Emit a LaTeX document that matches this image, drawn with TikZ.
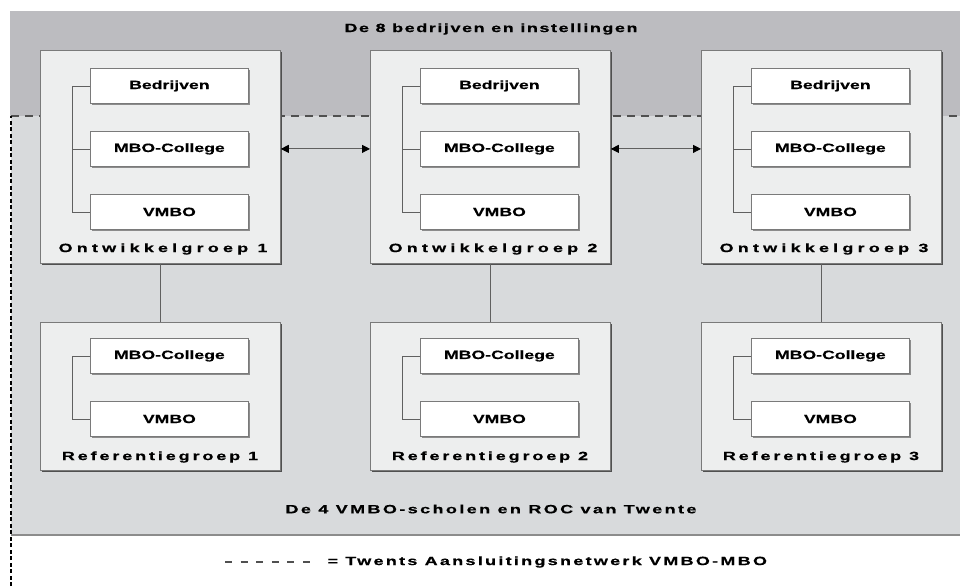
\documentclass[tikz,border=0pt]{standalone}
\usepackage{fontspec}
\setmainfont{Liberation Sans}
\usetikzlibrary{arrows.meta,shadows}
\definecolor{topband}{HTML}{BCBCC0}
\definecolor{lowband}{HTML}{D8DADC}
\definecolor{boxfill}{HTML}{EDEEEE}
\definecolor{boxline}{HTML}{7A7A7A}
\definecolor{shadowcol}{HTML}{505050}
\definecolor{linecol}{HTML}{606060}
\begin{document}
\begin{tikzpicture}[x=1pt,y=-1pt,
  font=\bfseries\fontsize{12}{14}\selectfont\addfontfeature{FakeStretch=1.47,FakeBold=0.5},
  heading/.style={font=\bfseries\fontsize{12}{14}\selectfont\addfontfeature{FakeStretch=1.5,FakeBold=0.5,LetterSpace=#1}},
  groupbox/.style={draw=boxline, fill=boxfill, line width=0.8pt, anchor=north west,
    minimum width=240pt, inner sep=0pt,
    general shadow={fill=shadowcol, shadow xshift=2pt, shadow yshift=-2pt}},
  ogroup/.style={groupbox, minimum height=213pt},
  rgroup/.style={groupbox, minimum height=148pt},
  unit/.style={draw=boxline, fill=white, line width=0.8pt, anchor=north west,
    minimum width=158pt, minimum height=35pt, inner sep=0pt,
    general shadow={fill=black!45, shadow xshift=1.5pt, shadow yshift=-1.5pt}},
  glabel/.style={font=\bfseries\fontsize{12}{14}\selectfont\addfontfeature{FakeStretch=1.5,FakeBold=0.5,LetterSpace=#1}},
  bracket/.style={draw=linecol, line width=0.8pt},
  conn/.style={draw=linecol, line width=0.8pt},
  biarrow/.style={draw=linecol, line width=0.9pt, {Triangle[length=8pt,width=8pt,color=black]}-{Triangle[length=8pt,width=8pt,color=black]}},
  netdash/.style={draw=shadowcol, line width=1.2pt, dash pattern=on 8pt off 6pt},
  sidedash/.style={draw=black, line width=1.2pt, dash pattern=on 4pt off 2.5pt},
]
\useasboundingbox (0,0) rectangle (960,586);
\fill[white] (0,0) rectangle (960,586);
% bands
\fill[topband] (10,11) rectangle (960,116);
\fill[lowband] (11,116) rectangle (960,535);
\coordinate (bl1) at (11,535);
\coordinate (bl2) at (960,535);
\draw[draw=black!45, line width=1.2pt] (bl1) -- (bl2);
% network boundary
\coordinate (nb1) at (11,586);
\coordinate (nb2) at (11,116);
\coordinate (nb3) at (960,116);
\draw[netdash] (nb2) -- (nb3);
\draw[sidedash] (nb1) -- (nb2);
% headings
\node[heading=13] (top) at (491,29) {De 8 bedrijven en instellingen};
\node[heading=20] (bottom) at (491,509) {De 4 VMBO-scholen en ROC van Twente};

% groups
\foreach \i/\x in {1/40,2/370,3/701}{
  \node[ogroup] (o\i) at (\x,50) {};
  \node[unit] (ob\i) at (\x+50,68) {Bedrijven};
  \node[unit] (om\i) at (\x+50,131) {MBO-College};
  \node[unit] (ov\i) at (\x+50,194) {VMBO};
  \node[glabel=35] (ol\i) at (\x+123,249) {Ontwikkelgroep \i};
  \draw[bracket] (ob\i.west) -- ++(-18,0) |- (ov\i.west);
  \draw[bracket] (om\i.west) -- ++(-18,0);
  \node[rgroup] (r\i) at (\x,322) {};
  \node[unit] (rm\i) at (\x+50,338) {MBO-College};
  \node[unit] (rv\i) at (\x+50,401) {VMBO};
  \node[glabel=24] (rl\i) at (\x+120,457) {Referentiegroep \i};
  \draw[bracket] (rm\i.west) -- ++(-18,0) |- (rv\i.west);
  \draw[conn] (o\i.south) -- (r\i.north);
}
\draw[biarrow] (om1 -| o1.east) -- (om2 -| o2.west);
\draw[biarrow] (om2 -| o2.east) -- (om3 -| o3.west);

% legend
\coordinate (lg1) at (225,562);
\coordinate (lg2) at (310,562);
\draw[draw=shadowcol, line width=1.4pt, dash pattern=on 7pt off 8.6pt] (lg1) -- (lg2);
\node[heading=19, anchor=west] (lgt) at (324,562) {= Twents Aansluitingsnetwerk VMBO-MBO};
\end{tikzpicture}
\end{document}
